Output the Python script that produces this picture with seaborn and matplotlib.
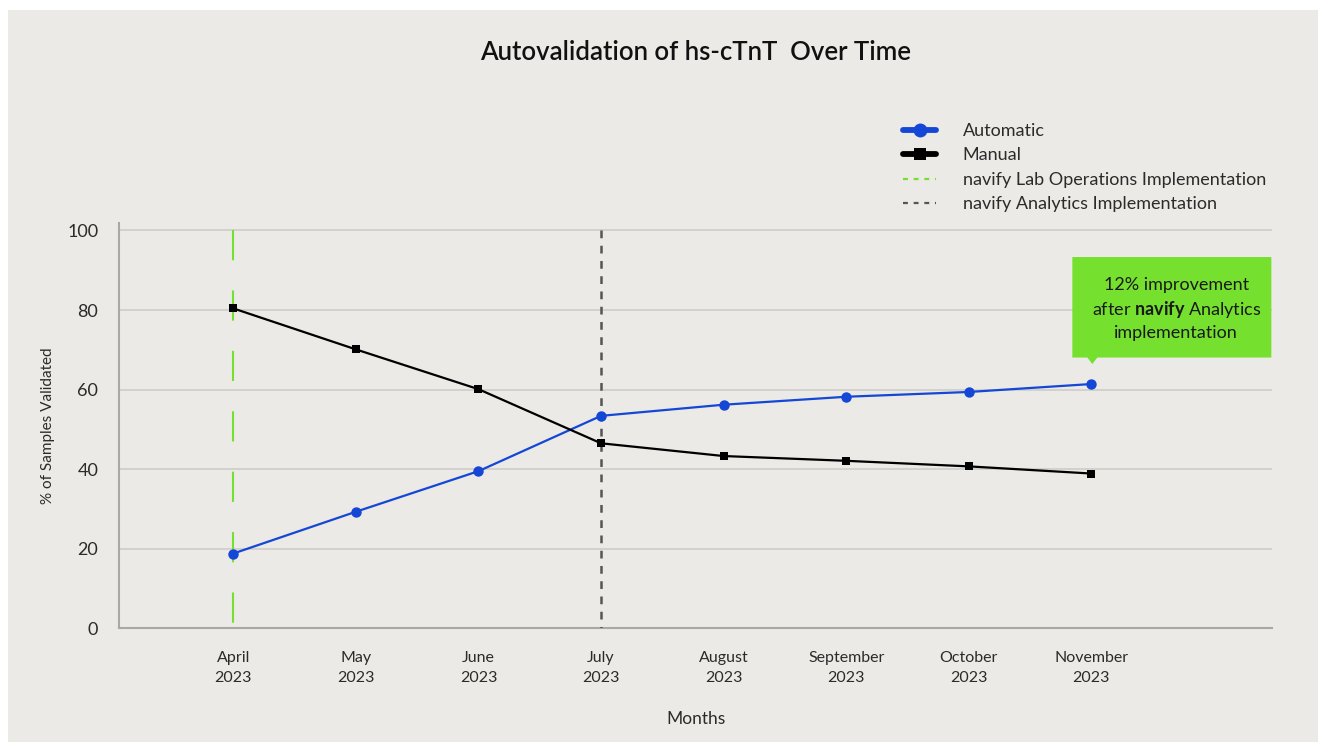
import matplotlib
matplotlib.use("Agg")
import matplotlib.pyplot as plt
import matplotlib.transforms as mtransforms
from matplotlib.lines import Line2D
from matplotlib.patches import Polygon, Rectangle
import seaborn as sns
import pandas as pd

# ---- data -------------------------------------------------------------
months = ["April", "May", "June", "July", "August", "September", "October", "November"]
years = ["2023"] * 8
automatic = [18.8, 29.3, 39.5, 53.4, 56.2, 58.2, 59.4, 61.4]
manual = [80.4, 70.1, 60.1, 46.5, 43.3, 42.1, 40.7, 38.9]
y_ticks = [0, 20, 40, 60, 80, 100]
lab_ops_month = "April"
analytics_month = "July"
callout_lines = ["12% improvement", r"after $\mathbf{navify}$ Analytics", "implementation"]

# ---- style ------------------------------------------------------------
BG = "#EBEAE6"
BLUE = "#1447D6"
GREEN = "#76E02F"
GRID = "#D2D1CD"
SPINE = "#A9A8A5"
TEXT = "#2B2B2B"
FONT = "Lato"

sns.set_theme(style="white")
plt.rcParams["font.family"] = [FONT, "DejaVu Sans"]
plt.rcParams["mathtext.fontset"] = "custom"
plt.rcParams["mathtext.rm"] = FONT
plt.rcParams["mathtext.bf"] = f"{FONT}:bold"

W, H, DPI = 1318, 742, 100
fig = plt.figure(figsize=(W / DPI, H / DPI), dpi=DPI, facecolor="white")
fig.patches.append(Rectangle((8 / W, 0), 1 - 8 / W, (H - 10) / H,
                             transform=fig.transFigure, facecolor=BG,
                             edgecolor="none", zorder=-10))
ax_left, ax_right, ax_top, ax_bottom = 119, 1272, 222.5, 628.3
ax = fig.add_axes([ax_left / W, 1 - ax_bottom / H, (ax_right - ax_left) / W,
                   (ax_bottom - ax_top) / H])
ax.set_facecolor(BG)

x = list(range(len(months)))
df = pd.DataFrame({"x": x + x,
                   "value": automatic + manual,
                   "series": ["Automatic"] * len(x) + ["Manual"] * len(x)})

sns.lineplot(data=df[df.series == "Automatic"], x="x", y="value", ax=ax,
             color=BLUE, lw=1.6, marker="o", markersize=7.5,
             markeredgewidth=0, zorder=4, legend=False)
sns.lineplot(data=df[df.series == "Manual"], x="x", y="value", ax=ax,
             color="black", lw=1.6, marker="s", markersize=6.3,
             markeredgewidth=0, zorder=4, legend=False)

# implementation markers
xl = months.index(lab_ops_month)
xa = months.index(analytics_month)
ax.plot([xl, xl], [100, 0], color=GREEN, lw=1.5, ls=(0, (14.5, 14.5)), zorder=3)
ax.plot([xa, xa], [100, 0], color="#555555", lw=1.8, ls=(0, (3.1, 3.0)), zorder=3)

# axes
ax.set_xlim(-0.933, 8.474)
ax.set_ylim(0, 102)
ax.set_yticks(y_ticks)
ax.yaxis.grid(True, color=GRID, lw=1.4)
ax.set_axisbelow(True)
ax.set_xticks(x, [f"{m}\n{y}" for m, y in zip(months, years)])
ax.tick_params(axis="x", length=0, pad=16, labelsize=11.5, labelcolor=TEXT)
ax.tick_params(axis="y", length=0, pad=15, labelsize=13, labelcolor=TEXT)
for lbl in ax.get_xticklabels():
    lbl.set_linespacing(1.55)
for s in ["top", "right"]:
    ax.spines[s].set_visible(False)
for s in ["left", "bottom"]:
    ax.spines[s].set_color(SPINE)
    ax.spines[s].set_linewidth(1.5)
ax.set_xlabel("Months", fontsize=12.5, color=TEXT, labelpad=19)
ax.set_ylabel("% of Samples Validated", fontsize=11, color=TEXT, labelpad=9)

fig.text((ax_left + ax_right) / 2 / W, 1 - 53 / H, "Autovalidation of hs-cTnT  Over Time",
         ha="center", va="center", fontsize=18.5, fontweight="semibold", color="#111111")

# legend
handles = [
    Line2D([], [], color=BLUE, lw=4.2, marker="o", markersize=10, markeredgewidth=0),
    Line2D([], [], color="black", lw=4.2, marker="s", markersize=9, markeredgewidth=0),
    Line2D([], [], color=GREEN, lw=1.6, ls=(0, (2.2, 2.6))),
    Line2D([], [], color="#555555", lw=1.6, ls=(0, (2.2, 2.6))),
]
labels = ["Automatic", "Manual", "navify Lab Operations Implementation",
          "navify Analytics Implementation"]
fig.legend(handles, labels, loc="upper left", bbox_to_anchor=(903 / W, 1 - 123 / H),
           frameon=False, fontsize=13, handlelength=1.85, handletextpad=1.45,
           borderpad=0, borderaxespad=0, labelspacing=0.47, labelcolor=TEXT)

# callout anchored to the last automatic value
px, py = ax.transData.transform((x[-1], automatic[-1]))
shape = [(-19, 26.5), (-4, 26.5), (1, 20), (6, 26.5), (180, 26.5),
         (180, 127), (-19, 127)]
callout = Polygon(shape, closed=True, facecolor=GREEN, edgecolor="none",
                  transform=mtransforms.Affine2D().translate(px, py),
                  zorder=5, clip_on=False)
ax.add_patch(callout)
for i, line in enumerate(callout_lines):
    ax.annotate(line, xy=(x[-1], automatic[-1]),
                xytext=(85 * 0.72, (99 - 24 * i) * 0.72), textcoords="offset points",
                ha="center", va="center", fontsize=13, color="#1A1A1A", zorder=6)

fig.savefig("out.png", dpi=DPI, facecolor=fig.get_facecolor())
